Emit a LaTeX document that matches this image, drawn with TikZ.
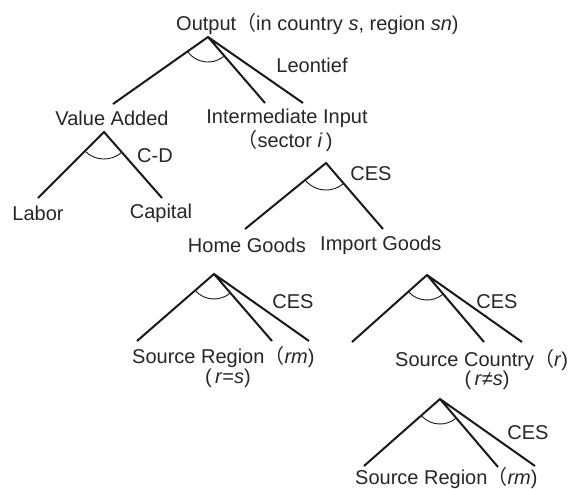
\documentclass[tikz,border=0pt]{standalone}
\usepackage{fontspec}
\setmainfont{Liberation Sans}
\newfontfamily\cjkfont{Noto Sans CJK JP}
\newcommand{\lpar}{{\cjkfont （}}
\usetikzlibrary{angles}
\begin{document}
\begin{tikzpicture}[x=1pt,y=1pt,
  lbl/.style={inner sep=0pt, text=black!85, font=\fontsize{20}{23}\selectfont},
  branch/.style={line width=2pt, black!90},
  elas/.style={draw, line width=0.9pt, black!90, angle radius=25pt}]
\useasboundingbox (0,0) rectangle (578,-488);
% labels
\node[lbl, anchor=west] (out) at (176,-24) {Output\lpar in country \textit{s}, region \textit{sn})};
\node[lbl] (leon) at (312,-65) {Leontief};
\node[lbl] (va) at (112,-118) {Value Added};
\node[lbl] (ii) at (287,-118) {Intermediate Input};
\node[lbl] (sec) at (285,-141) {\lpar sector \textit{i}\,)};
\node[lbl] (cd) at (155,-156) {C-D};
\node[lbl] (lab) at (38,-213) {Labor};
\node[lbl] (cap) at (161,-213) {Capital};
\node[lbl] (ces1) at (371,-174) {CES};
\node[lbl, anchor=east] (home) at (306,-245) {Home Goods};
\node[lbl, anchor=west] (imp) at (320,-245) {Import Goods};
\node[lbl] (ces2) at (293,-302) {CES};
\node[lbl, anchor=west] (sr1) at (132,-357) {Source Region\lpar\textit{rm})};
\node[lbl] (req) at (228,-378) {(\,\textit{r}=\textit{s})};
\node[lbl] (ces3) at (497,-302) {CES};
\node[lbl, anchor=west] (sc) at (395,-360) {Source Country\lpar\textit{r})};
\node[lbl] (rne) at (487,-380) {(\,\textit{r}≠\textit{s})};
\node[lbl] (ces4) at (528,-433) {CES};
\node[lbl, anchor=west] (sr2) at (355,-478) {Source Region\lpar\textit{rm})};
% tree 1: output
\coordinate (t1) at (208,-37);
\coordinate (t1a) at (113,-104);
\coordinate (t1b) at (265,-103);
\coordinate (t1c) at (303,-103);
\draw[branch] (t1a) -- (t1) -- (t1b) (t1) -- (t1c);
\pic[elas] {angle = t1a--t1--t1b};
% tree 2: value added
\coordinate (t2) at (104,-132);
\coordinate (t2a) at (38,-198);
\coordinate (t2b) at (162,-198);
\draw[branch] (t2a) -- (t2) -- (t2b);
\pic[elas, angle radius=27pt] {angle = t2a--t2--t2b};
% tree 3: intermediate
\coordinate (t3) at (326,-163);
\coordinate (t3a) at (245,-229);
\coordinate (t3b) at (383,-229);
\draw[branch] (t3a) -- (t3) -- (t3b);
\pic[elas, angle radius=27pt] {angle = t3a--t3--t3b};
% tree 4: home goods
\coordinate (t4) at (214,-274);
\coordinate (t4a) at (137,-341);
\coordinate (t4b) at (272,-341);
\coordinate (t4c) at (309,-341);
\draw[branch] (t4a) -- (t4) -- (t4b) (t4) -- (t4c);
\pic[elas] {angle = t4a--t4--t4b};
% tree 5: import goods
\coordinate (t5) at (427,-275);
\coordinate (t5a) at (352,-342);
\coordinate (t5b) at (484,-342);
\coordinate (t5c) at (522,-342);
\draw[branch] (t5a) -- (t5) -- (t5b) (t5) -- (t5c);
\pic[elas] {angle = t5a--t5--t5b};
% tree 6: source country
\coordinate (t6) at (440,-399);
\coordinate (t6a) at (364,-466);
\coordinate (t6b) at (498,-467);
\coordinate (t6c) at (535,-466);
\draw[branch] (t6a) -- (t6) -- (t6b) (t6) -- (t6c);
\pic[elas] {angle = t6a--t6--t6b};
\end{tikzpicture}
\end{document}
